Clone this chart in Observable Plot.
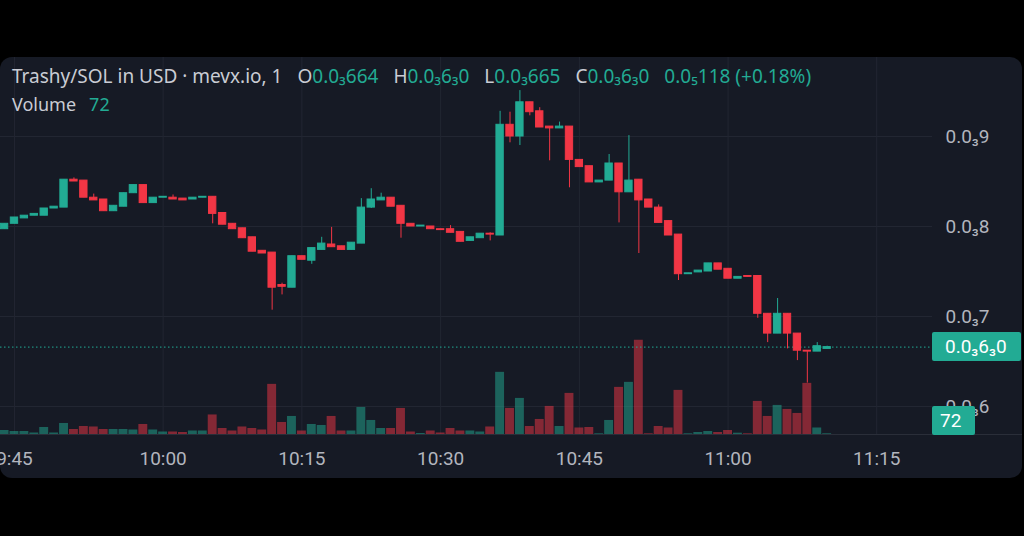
<!DOCTYPE html>
<html>
<head>
<meta charset="utf-8">
<script src="https://cdn.jsdelivr.net/npm/d3@7"></script>
<script src="https://cdn.jsdelivr.net/npm/@observablehq/plot@0.6"></script>
<style>
  html, body { margin: 0; padding: 0; background: #000; width: 1024px; height: 536px; overflow: hidden; }
  #panel { position: absolute; left: 0; top: 57px; width: 1022px; height: 421px; background: #161a25;
           border-radius: 12px; overflow: hidden; font-family: Roboto, "Noto Sans", "DejaVu Sans", sans-serif; }
  #panel svg { position: absolute; left: 0; top: 0; }
  .hdr { position: absolute; left: 12px; font-family: "Noto Sans", Roboto, sans-serif; font-size: 18px; color: #c9ccd4; white-space: nowrap; line-height: 20px; }
  #line1 { font-size: 19px; }
  .hdr span.gap { margin-left: 15px; }
  .hdr span.vgap { margin-left: 13px; }
  .g { color: #22ab94; }
  .tag { position: absolute; background: #22ab94; color: #fff; font-size: 19px; line-height: 29px; height: 29px;
         border-radius: 2px; box-sizing: border-box; padding-left: 13px; white-space: nowrap; }
  #sep { position: absolute; left: 0; width: 1022px; height: 1px; background: #2a2e39; }
</style>
</head>
<body>
<div id="panel">
  <div id="layers"></div>
  <div id="sep"></div>
  <div class="hdr" id="line1"></div>
  <div class="hdr" id="line2"></div>
</div>
<script>
// ---- data (prices in units of 0.0001 USD, one bar per minute, index 0 = 9:45) ----
const firstIndex = -1;
const open  = [7.97,8.03,8.09,8.12,8.12,8.20,8.21,8.52,8.51,8.32,8.30,8.17,8.22,8.37,8.46,8.26,8.32,8.32,8.31,8.30,
               8.32,8.33,8.15,8.03,7.98,7.88,7.73,7.71,7.35,7.32,7.67,7.62,7.74,7.80,7.78,7.74,7.81,8.21,8.29,8.32,
               8.23,8.03,8.00,8.00,7.97,7.97,7.94,7.84,7.87,7.92,7.90,9.13,9.00,9.38,9.28,9.11,9.09,9.11,8.74,8.67,
               8.49,8.51,8.70,8.38,8.52,8.30,8.21,8.06,7.91,7.47,7.49,7.50,7.59,7.53,7.42,7.45,7.45,7.03,6.81,7.03,
               6.81,6.62,6.61,6.64];
const high  = [8.03,8.10,8.12,8.14,8.20,8.22,8.52,8.54,8.51,8.36,8.30,8.23,8.37,8.46,8.46,8.32,8.33,8.35,8.31,8.32,
               8.33,8.33,8.15,8.03,7.98,7.88,7.73,7.71,7.37,7.67,7.67,7.76,7.88,7.99,7.78,7.82,8.31,8.42,8.37,8.32,
               8.23,8.03,8.01,8.00,7.97,8.01,7.94,7.88,7.92,7.93,9.28,9.27,9.51,9.38,9.32,9.11,9.16,9.11,8.74,8.67,
               8.51,8.80,8.70,9.01,8.52,8.30,8.24,8.06,7.91,7.48,7.51,7.59,7.59,7.53,7.44,7.45,7.45,7.03,7.20,7.03,
               6.81,6.62,6.71,6.67];
const low   = [7.97,8.03,8.09,8.12,8.12,8.20,8.21,8.50,8.32,8.29,8.17,8.17,8.22,8.37,8.26,8.26,8.32,8.30,8.29,8.30,
               8.32,8.03,8.02,7.97,7.87,7.72,7.70,7.07,7.24,7.32,7.63,7.58,7.74,7.77,7.74,7.74,7.81,8.20,8.29,8.22,
               7.87,8.00,8.00,7.97,7.96,7.93,7.83,7.84,7.87,7.84,7.90,8.93,8.90,9.23,9.10,8.73,9.09,8.43,8.66,8.49,
               8.49,8.51,8.04,8.38,7.70,8.21,8.04,7.90,7.40,7.47,7.49,7.50,7.52,7.42,7.42,7.44,6.98,6.71,6.81,6.64,
               6.51,6.26,6.61,6.64];
const close = [8.03,8.10,8.12,8.14,8.20,8.22,8.52,8.50,8.32,8.29,8.17,8.23,8.37,8.46,8.26,8.32,8.33,8.30,8.29,8.32,
               8.33,8.14,8.02,7.97,7.87,7.72,7.70,7.32,7.33,7.67,7.63,7.76,7.81,7.77,7.74,7.82,8.21,8.30,8.32,8.22,
               8.03,8.00,8.01,7.97,7.96,7.93,7.83,7.88,7.92,7.91,9.13,9.00,9.38,9.27,9.10,9.09,9.11,8.74,8.66,8.49,
               8.51,8.70,8.38,8.51,8.29,8.21,8.04,7.90,7.47,7.48,7.51,7.59,7.52,7.42,7.44,7.44,7.03,6.81,7.03,6.81,
               6.62,6.61,6.67,6.66];
const volume = [400,300,300,150,700,150,1100,500,800,750,500,500,500,450,1000,450,250,250,200,350,
                350,1950,600,350,750,600,450,5000,1200,1800,350,1000,900,1800,350,350,2700,1400,600,600,
                2600,250,100,350,150,600,350,350,250,750,6200,2600,3600,800,1500,2800,800,4100,650,700,
                70,1400,4700,5200,9400,70,800,650,4400,70,200,300,200,400,130,70,3300,1800,2900,2500,
                2100,5100,650,72];
const timeTickIndex  = [0, 15, 29, 43, 57, 72, 87];
const timeTickLabels = ["9:45", "10:00", "10:15", "10:30", "10:45", "11:00", "11:15"];
const priceTicks      = [6, 7, 8, 9];
const priceTickLabels = ["0.0₃6", "0.0₃7", "0.0₃8", "0.0₃9"];
const lastPriceLabel  = "0.0₃6₃0";
const lastVolumeLabel = "72";
const header1 = [
  ["Trashy/SOL in USD · mevx.io, 1", null],
  ["O", "0.0₃664"], ["H", "0.0₃6₃0"], ["L", "0.0₃665"], ["C", "0.0₃6₃0"], ["", "0.0₅118 (+0.18%)"]
];
const header2 = [["Volume", "72"]];

// ---- build ----
const UP = "#22ab94", DOWN = "#f23645", GRID = "#222632";
const bars = open.map((o, k) => ({
  i: k + firstIndex, o, h: high[k], l: low[k], c: close[k], v: volume[k],
  dir: close[k] >= o ? "up" : "down"
}));
const last = bars[bars.length - 1];

const W = 1022, H = 421;
const xDomain = [-1.41, 92.63];
const common = {
  width: W, height: H, marginLeft: 0, marginRight: 90,
  x: { domain: xDomain, axis: null },
  color: { domain: ["up", "down"], range: [UP, DOWN] },
  style: { background: "transparent", color: "#b2b5be", fontFamily: "Roboto, 'Noto Sans', sans-serif", fontSize: "19px", overflow: "visible" }
};
const priceFrame = { marginTop: 79, marginBottom: 72, y: { domain: [6, 9], axis: null } };

// layer 1: price grid + price axis
const gridPlot = Plot.plot({
  ...common, ...priceFrame,
  marks: [
    Plot.ruleY(priceTicks, { stroke: GRID }),
    Plot.axisY({ anchor: "right", ticks: priceTicks, tickFormat: d => priceTickLabels[priceTicks.indexOf(d)],
                 tickSize: 0, tickPadding: 13, label: null, textAnchor: "start" })
  ]
});

// layer 2: volume pane (bottom quarter) + time grid + time axis
const volPlot = Plot.plot({
  ...common,
  marginTop: 0, marginBottom: 44,
  y: { domain: [0, d3.max(volume) * 4], axis: null },
  marks: [
    Plot.ruleX(timeTickIndex, { stroke: GRID }),
    Plot.rectY(bars, { x1: d => d.i - 0.45, x2: d => d.i + 0.45, y: "v", fill: "dir", fillOpacity: 0.5 }),
    Plot.axisX({ ticks: timeTickIndex, tickFormat: d => timeTickLabels[timeTickIndex.indexOf(d)],
                 tickSize: 0, tickPadding: 17, label: null })
  ]
});

// layer 3: candles + last price line
const candlePlot = Plot.plot({
  ...common, ...priceFrame,
  marks: [
    Plot.ruleY([last.c], { stroke: UP, strokeDasharray: "1.5,2.5", strokeWidth: 1 }),
    Plot.ruleX(bars, { x: "i", y1: "l", y2: "h", stroke: "dir", strokeWidth: 1 }),
    Plot.rect(bars, { x1: d => d.i - 0.37, x2: d => d.i + 0.37, y1: "o", y2: "c", fill: "dir", stroke: "dir", strokeWidth: 1 })
  ]
});

const layers = document.getElementById("layers");
layers.append(gridPlot, volPlot, candlePlot);

// separator at bottom of pane (volume baseline)
const vy = volPlot.scale("y");
document.getElementById("sep").style.top = Math.round(vy.apply(0)) + "px";

// price tag
const py = candlePlot.scale("y");
const tag = document.createElement("div");
tag.className = "tag";
tag.textContent = lastPriceLabel;
tag.style.left = "932px"; tag.style.width = "89px";
tag.style.top = (py.apply(last.c) - 14.5) + "px";
document.getElementById("panel").append(tag);

// volume tag (clamped to pane bottom)
const vtag = document.createElement("div");
vtag.className = "tag";
vtag.textContent = lastVolumeLabel;
vtag.style.left = "932px"; vtag.style.width = "43px"; vtag.style.paddingLeft = "8px";
vtag.style.top = Math.min(vy.apply(last.v) - 14.5, vy.apply(0) - 28) + "px";
document.getElementById("panel").append(vtag);

// header
function fillHeader(el, items, valueGap) {
  items.forEach(([lab, val], k) => {
    const s = document.createElement("span");
    if (k > 0) s.className = "gap";
    s.textContent = lab;
    if (val) {
      const g = document.createElement("span");
      g.className = valueGap ? "g vgap" : "g";
      g.textContent = val; s.append(g);
    }
    el.append(s);
  });
}
const l1 = document.getElementById("line1"); l1.style.top = "9px"; fillHeader(l1, header1, false);
const l2 = document.getElementById("line2"); l2.style.top = "37px"; fillHeader(l2, header2, true);
</script>
</body>
</html>
